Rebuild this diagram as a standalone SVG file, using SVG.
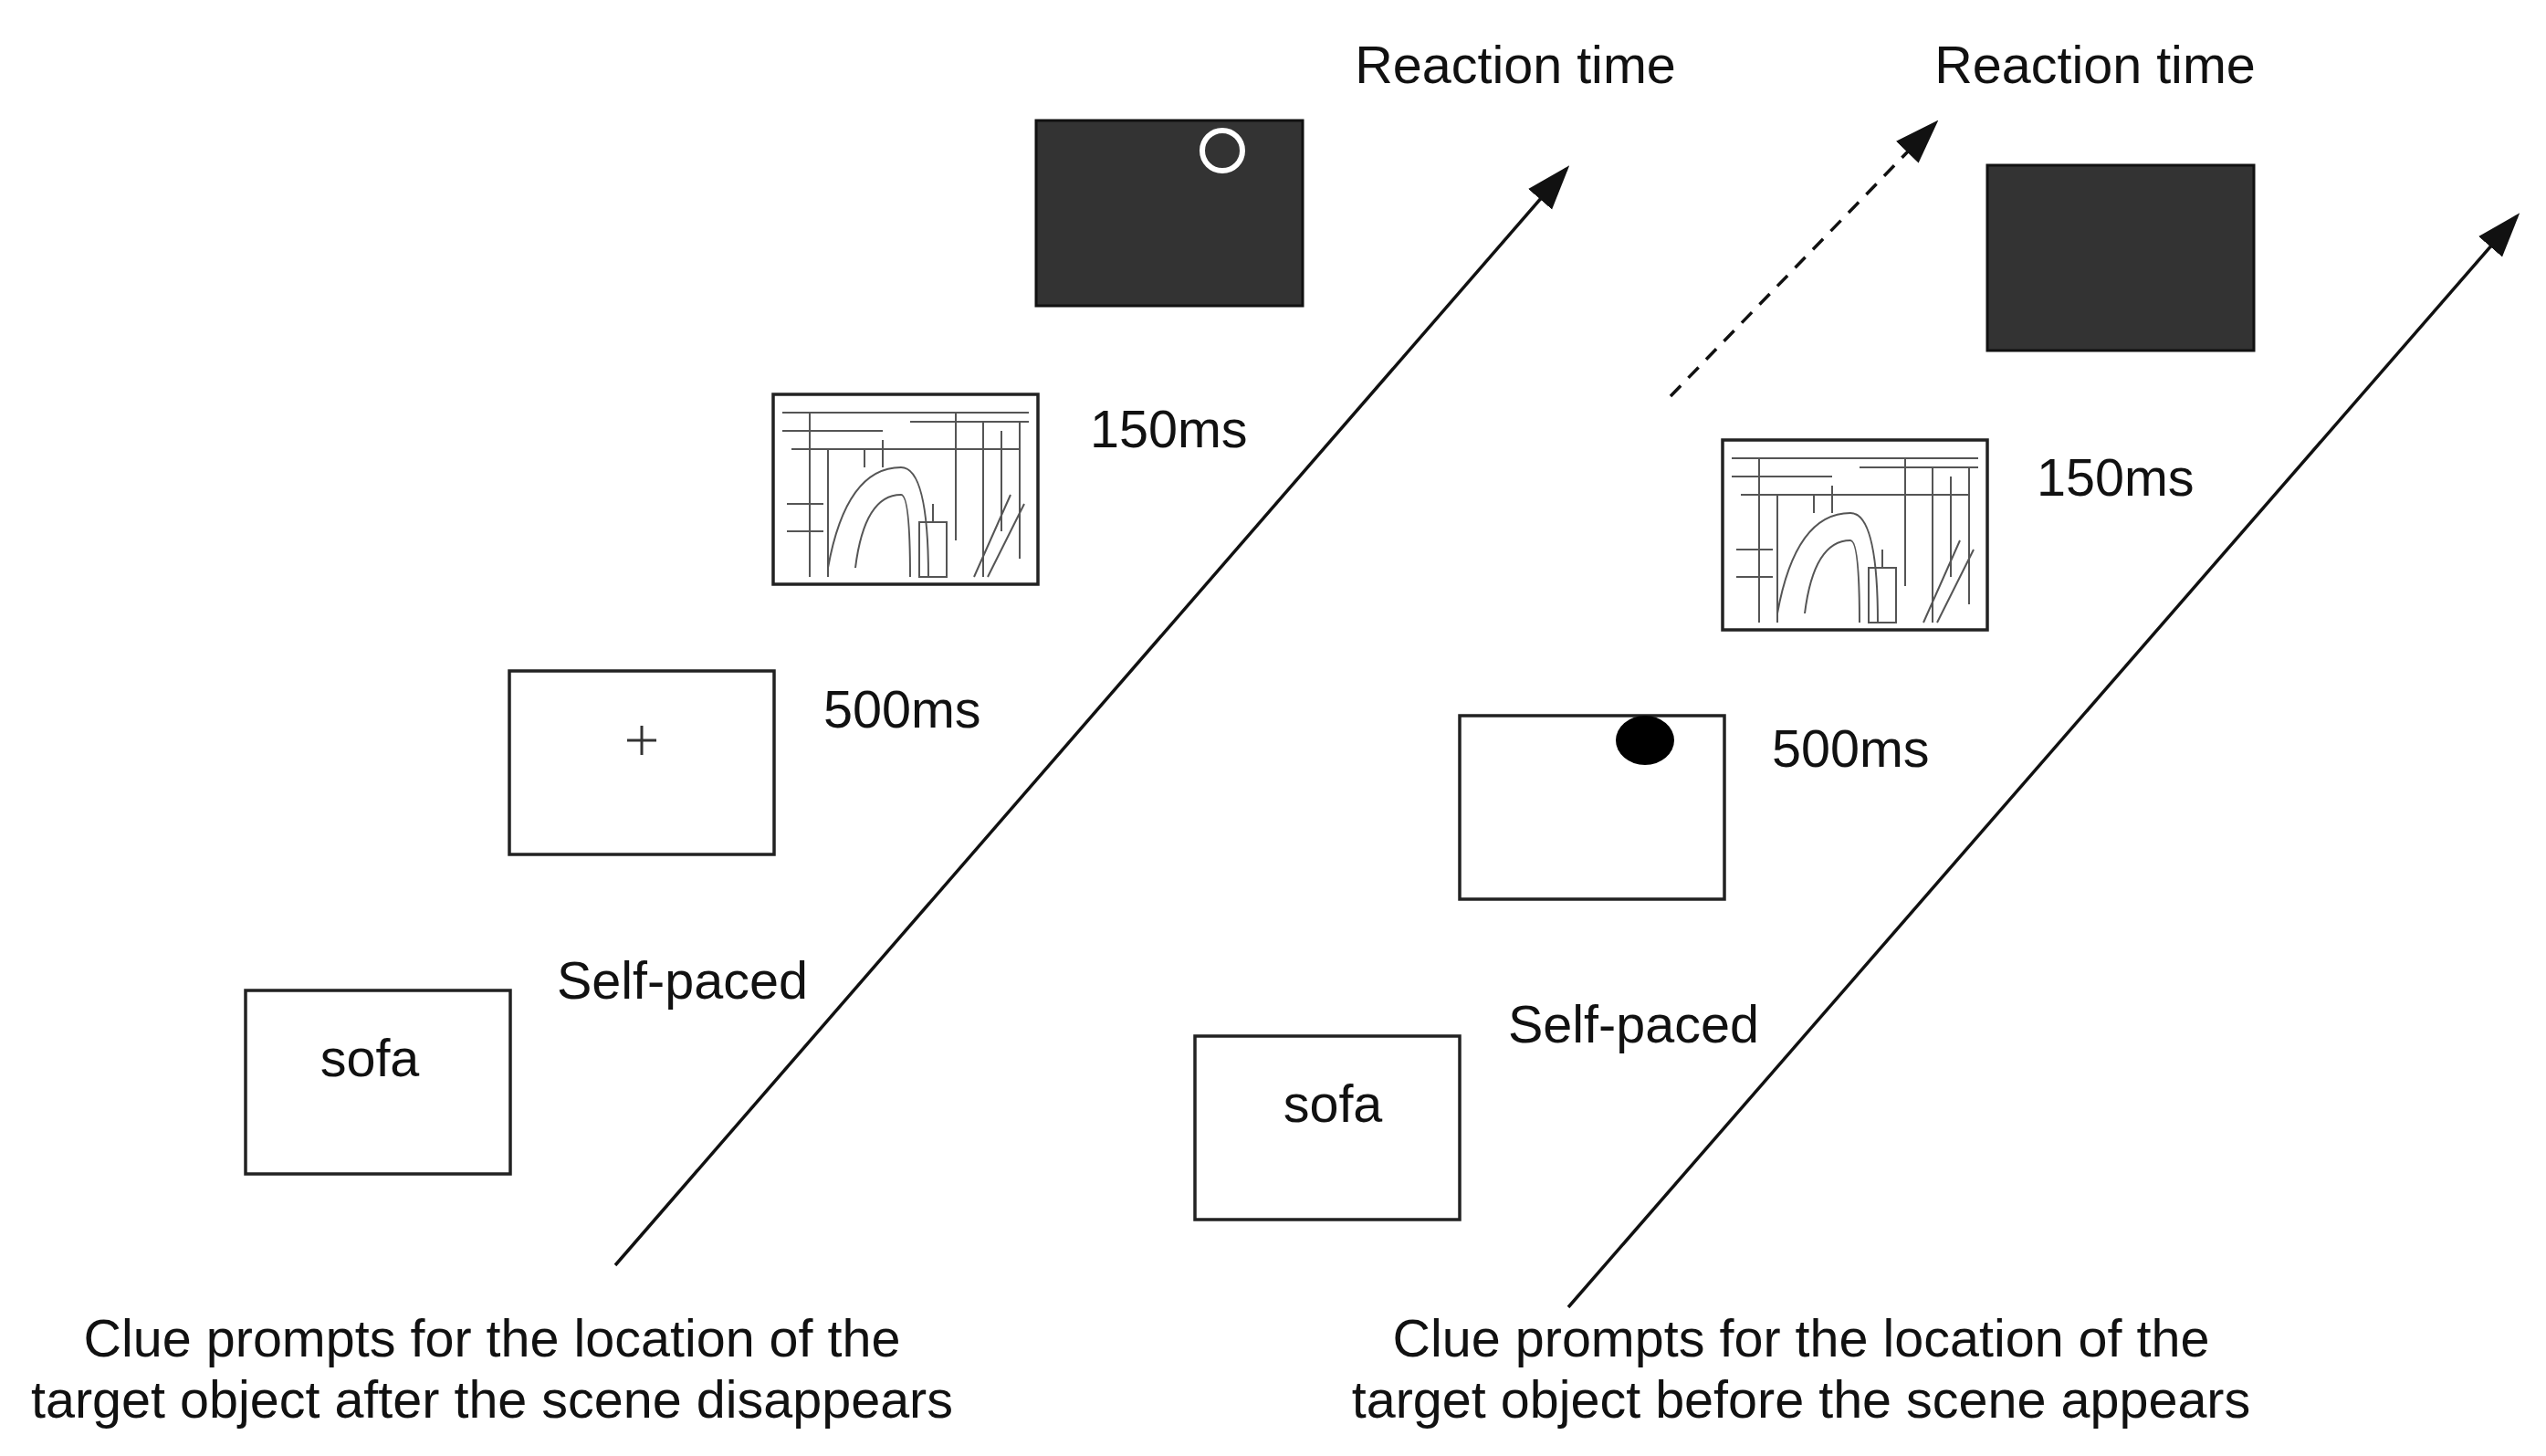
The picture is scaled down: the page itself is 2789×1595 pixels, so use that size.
<svg xmlns="http://www.w3.org/2000/svg" width="2789" height="1595" viewBox="0 0 2789 1595">
<defs>
<style>
.t{font-family:"Liberation Sans",Arial,sans-serif;font-size:57.5px;fill:#111}
.box{fill:#fff;stroke:#222;stroke-width:3.5}
.dark{fill:#333;stroke:#111;stroke-width:3}
.ln{stroke:#111;stroke-width:3.5;fill:none}
.sc{stroke:#555;stroke-width:2;fill:none}
</style>
<marker id="a" viewBox="0 0 10 10" refX="9" refY="5" markerWidth="14" markerHeight="14" orient="auto" markerUnits="strokeWidth"><path d="M0,1.5L10,5L0,8.5z" fill="#111"/></marker>
<g id="scene">
<rect class="box" width="290" height="208"/>
<path class="sc" d="M10,20H280M10,40H120M150,30H280M20,60H270M40,20V200M60,60V200M200,20V160M230,30V200M250,40V150M270,30V180"/>
<path class="sc" d="M60,190Q80,80 140,80Q170,80 170,200M90,190Q100,110 140,110Q150,110 150,200M160,140h30v60h-30zM175,120v20M260,110L220,200M275,120L235,200"/>
<path class="sc" d="M15,120h40M15,150h40M100,60v20M120,50v30M240,60h30"/>
</g>
</defs>
<rect width="2789" height="1595" fill="#fff"/>
<g id="connectors">
<line class="ln" x1="674" y1="1386" x2="1716" y2="185" marker-end="url(#a)"/>
<line class="ln" x1="1718" y1="1432" x2="2757" y2="237" marker-end="url(#a)"/>
<line class="ln" x1="1830" y1="434" x2="2120" y2="135" stroke-dasharray="16,12" marker-end="url(#a)"/>
</g>
<g id="left-rt"><rect class="dark" x="1135" y="132" width="292" height="203"/><circle cx="1339" cy="165" r="22" fill="#333" stroke="#fff" stroke-width="6"/></g>
<g id="left-scene"><use href="#scene" x="847" y="432"/></g>
<g id="left-fix"><rect class="box" x="558" y="735" width="290" height="201"/><path d="M703,795V827M687,811H719" stroke="#333" stroke-width="3"/></g>
<g id="left-sofa"><rect class="box" x="269" y="1085" width="290" height="201"/><text class="t" x="405" y="1179" text-anchor="middle">sofa</text></g>
<g id="right-rt"><rect class="dark" x="2177" y="181" width="292" height="203"/></g>
<g id="right-scene"><use href="#scene" x="1887" y="482"/></g>
<g id="right-cue"><rect class="box" x="1599" y="784" width="290" height="201"/><ellipse cx="1802" cy="811" rx="32" ry="27" fill="#000"/></g>
<g id="right-sofa"><rect class="box" x="1309" y="1135" width="290" height="201"/><text class="t" x="1460" y="1229" text-anchor="middle">sofa</text></g>
<g id="labels">
<text class="t" x="1660" y="91" text-anchor="middle">Reaction time</text>
<text class="t" x="1194" y="490">150ms</text>
<text class="t" x="902" y="797">500ms</text>
<text class="t" x="610" y="1094">Self-paced</text>
<text class="t" x="2295" y="91" text-anchor="middle">Reaction time</text>
<text class="t" x="2231" y="543">150ms</text>
<text class="t" x="1941" y="840">500ms</text>
<text class="t" x="1652" y="1142">Self-paced</text>
<text class="t" x="539" y="1486" text-anchor="middle">Clue prompts for the location of the</text>
<text class="t" x="539" y="1553" text-anchor="middle">target object after the scene disappears</text>
<text class="t" x="1973" y="1486" text-anchor="middle">Clue prompts for the location of the</text>
<text class="t" x="1973" y="1553" text-anchor="middle">target object before the scene appears</text>
</g>
</svg>
